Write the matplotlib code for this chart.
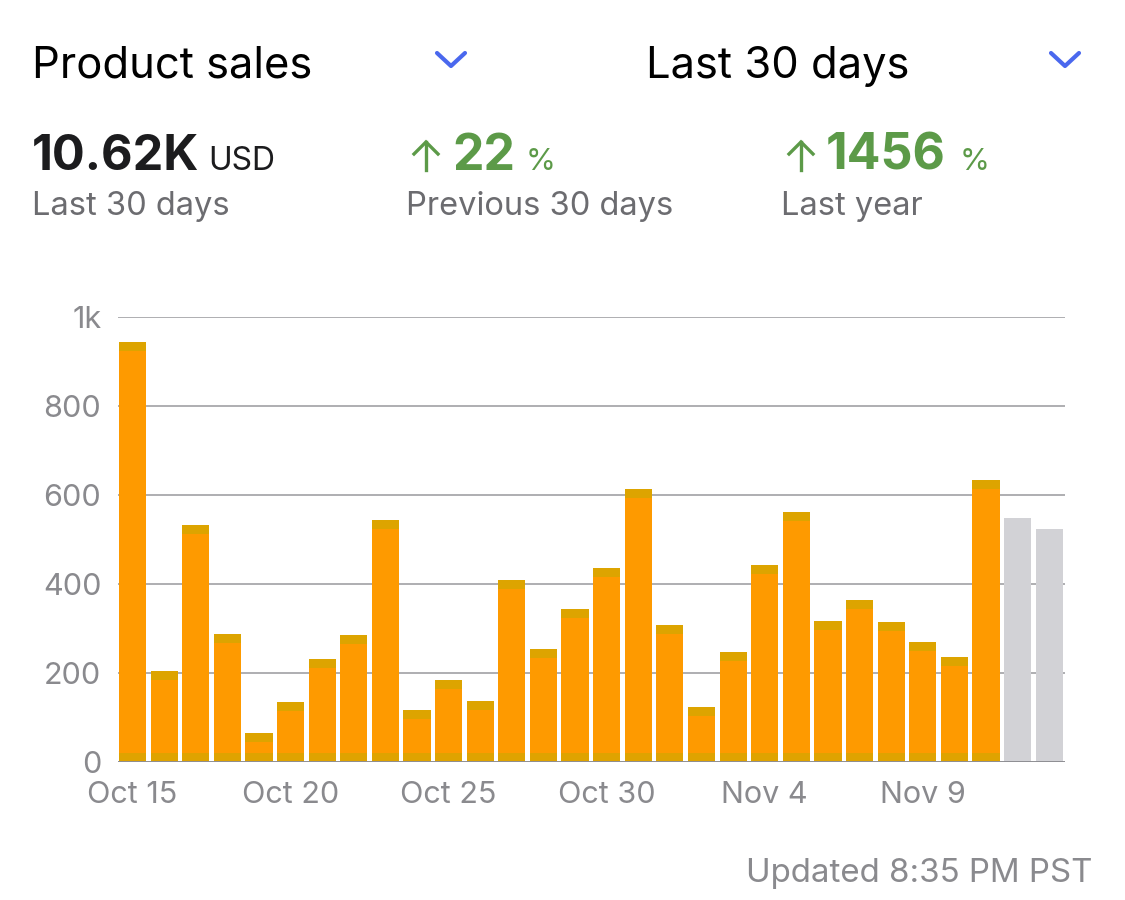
"""Product sales, last 30 days: daily bars with a header of summary figures."""
import matplotlib

matplotlib.use("Agg")
import matplotlib.pyplot as plt
from matplotlib.lines import Line2D
import numpy as np

# daily sales in USD, Oct 15 .. Nov 13 (last two days are projected / greyed)
days = ["Oct 15", "Oct 16", "Oct 17", "Oct 18", "Oct 19", "Oct 20", "Oct 21", "Oct 22",
        "Oct 23", "Oct 24", "Oct 25", "Oct 26", "Oct 27", "Oct 28", "Oct 29", "Oct 30",
        "Oct 31", "Nov 1", "Nov 2", "Nov 3", "Nov 4", "Nov 5", "Nov 6", "Nov 7",
        "Nov 8", "Nov 9", "Nov 10", "Nov 11", "Nov 12", "Nov 13"]
sales = [944, 204, 533, 288, 65, 135, 231, 285, 544, 117, 184, 137, 409, 254, 344, 436,
         613, 308, 124, 247, 443, 562, 317, 364, 315, 270, 236, 634, 548, 524]
projected = [False] * 28 + [True, True]

tick_days = ["Oct 15", "Oct 20", "Oct 25", "Oct 30", "Nov 4", "Nov 9"]
y_ticks = [0, 200, 400, 600, 800, 1000]
y_tick_labels = ["0", "200", "400", "600", "800", "1k"]

total_label = "10.62K"
prev_change = "22"
year_change = "1456"

ORANGE = "#FE9A00"
OLIVE = "#D3A800"
GREY_BAR = "#D2D2D6"
GRID = "#98989C"
TICK = "#8A8A8E"
SUB = "#6C6C70"
GREEN = "#5C9A48"
BLUE = "#4A68EE"

plt.rcParams["font.family"] = ["Inter", "DejaVu Sans"]

W, H = 1125, 900
fig = plt.figure(figsize=(W / 100, H / 100), dpi=100)

# chart axes placed in pixel terms
left, right, top, bottom = 118, 1065, 317, 762
ax = fig.add_axes([left / W, (H - bottom) / H, (right - left) / W, (bottom - top) / H])

x = np.arange(len(sales))
vals = np.array(sales, dtype=float)
proj = np.array(projected)
cap = 20

ax.bar(x[~proj], vals[~proj], width=0.86, color=ORANGE, zorder=2)
ax.bar(x[proj], vals[proj], width=0.86, color=GREY_BAR, zorder=2)
# darker cap at top and band at bottom of each real bar
ax.bar(x[~proj], cap, bottom=vals[~proj] - cap, width=0.86, color=OLIVE, alpha=0.75, zorder=3)
ax.bar(x[~proj], cap, width=0.86, color=OLIVE, alpha=0.7, zorder=3)

ax.set_xlim(-0.46, 29.5)
ax.set_ylim(0, 1000)
for yv in y_ticks[1:]:
    ax.axhline(yv, color=GRID, lw=1.1, zorder=1)
ax.axhline(0, color="#8E8E93", lw=1.4, zorder=4)

ax.set_yticks(y_ticks)
ax.set_yticklabels(y_tick_labels)
ax.set_xticks([days.index(d) for d in tick_days])
ax.set_xticklabels(tick_days)
ax.tick_params(axis="both", length=0, labelsize=22, labelcolor=TICK)
ax.tick_params(axis="y", pad=12)
ax.tick_params(axis="x", pad=14)
for s in ax.spines.values():
    s.set_visible(False)

# overlay axes in pixel coords for the header
ov = fig.add_axes([0, 0, 1, 1])
ov.set_xlim(0, W)
ov.set_ylim(H, 0)
ov.axis("off")

ov.text(32, 78, "Product sales", fontsize=31.3, color="black", va="baseline")
ov.text(646, 78, "Last 30 days", fontsize=31.3, color="black", va="baseline")
for cx in (451, 1065):
    ov.add_line(Line2D([cx - 14, cx, cx + 14], [53, 66, 53], color=BLUE, lw=3,
                       solid_capstyle="round", solid_joinstyle="round"))


def up_arrow(x0, color):
    # thin arrow drawn as lines: shaft plus head
    ov.add_line(Line2D([x0 + 14, x0 + 14], [170, 142], color=color, lw=2.4))
    ov.add_line(Line2D([x0 + 2, x0 + 14, x0 + 26], [154, 142, 154], color=color, lw=2.4,
                       solid_joinstyle="miter"))


ov.text(32, 170, total_label, fontsize=35, fontweight="bold", color="#1C1C1E", va="baseline")
ov.text(208, 170, "USD", fontsize=23, color="#1C1C1E", va="baseline")
ov.text(32, 215, "Last 30 days", fontsize=23.5, color=SUB, va="baseline")

up_arrow(412, GREEN)
ov.text(452, 170, prev_change, fontsize=36, fontweight="bold", color=GREEN, va="baseline")
ov.text(526, 170, "%", fontsize=22, color=GREEN, va="baseline")
ov.text(406, 215, "Previous 30 days", fontsize=23.5, color=SUB, va="baseline")

up_arrow(787, GREEN)
ov.text(826, 170, year_change, fontsize=36, fontweight="bold", color=GREEN, va="baseline")
ov.text(960, 170, "%", fontsize=22, color=GREEN, va="baseline")
ov.text(781, 215, "Last year", fontsize=23.5, color=SUB, va="baseline")

ov.text(1093, 882, "Updated 8:35 PM PST", fontsize=23.8, color=TICK, ha="right", va="baseline")

fig.savefig("out.png", dpi=100, facecolor="white")
